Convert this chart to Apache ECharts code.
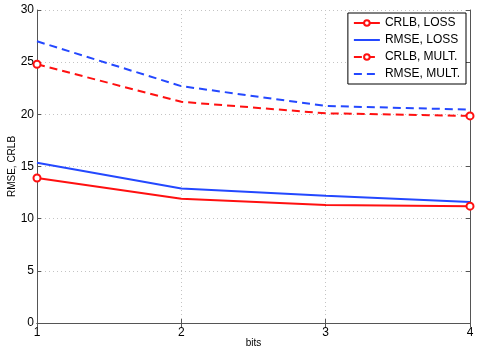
<!DOCTYPE html>
<html>
<head>
<meta charset="utf-8">
<script src="https://cdn.jsdelivr.net/npm/echarts@6/dist/echarts.min.js"></script>
<style>
  html, body { margin: 0; padding: 0; background: #fff; }
  #chart { width: 491px; height: 352px; }
</style>
</head>
<body>
<div id="chart"></div>
<script>
// bits on the x axis
var bits = [1, 2, 3, 4];
var crlbLoss = [13.9, 11.9, 11.3, 11.2];
var rmseLoss = [15.35, 12.9, 12.2, 11.6];
var crlbMult = [24.8, 21.2, 20.1, 19.85];
var rmseMult = [27.0, 22.7, 20.8, 20.45];
var seriesNames = ["CRLB, LOSS", "RMSE, LOSS", "CRLB, MULT.", "RMSE, MULT."];

var red = "#ff1010";
var blue = "#2448ff";
var font = "Liberation Sans, Arial, sans-serif";

// markers only on the end points
function pairs(values, marked) {
  return values.map(function(v, i) {
    var item = { value: [bits[i], v] };
    if (!marked || (i !== 0 && i !== values.length - 1)) {
      item.symbol = "none";
    }
    return item;
  });
}

function makeSeries(name, values, color, dashed, marked) {
  return {
    name: name,
    type: "line",
    data: pairs(values, marked),
    symbol: "emptyCircle",
    symbolSize: marked ? 7 : 0,
    showSymbol: true,
    clip: false,
    color: color,
    lineStyle: { color: color, width: 2, type: dashed ? [8, 5] : "solid" },
    itemStyle: { color: color, borderWidth: 1.6 },
    animation: false,
    z: 3
  };
}

// the RMSE lines have no marker in the legend either
var legendData = seriesNames.map(function(n, i) {
  return i % 2 === 1 ? { name: n, itemStyle: { opacity: 0 } } : { name: n };
});

var chart = echarts.init(document.getElementById("chart"));
var axisBase = {
  axisLine: { show: true, lineStyle: { color: "#555", width: 1 } },
  axisTick: { show: true, inside: true, length: 4, lineStyle: { color: "#555" } },
  splitLine: { show: true, lineStyle: { color: "#c4c4c4", type: [1, 3], width: 1 } }
};

chart.setOption({
  backgroundColor: "#fff",
  animation: false,
  grid: { left: 37, right: 21, top: 10, bottom: 29, containLabel: false, outerBoundsMode: "none" },
  legend: {
    orient: "vertical",
    right: 25,
    top: 13,
    data: legendData,
    itemWidth: 26,
    itemHeight: 7,
    itemGap: 5,
    padding: [4, 6, 4, 5],
    borderColor: "#000",
    borderWidth: 1,
    backgroundColor: "#fff",
    textStyle: { color: "#000", fontSize: 12, fontFamily: font }
  },
  xAxis: [
    Object.assign({}, axisBase, {
      type: "value",
      min: 1,
      max: 4,
      interval: 1,
      name: "bits",
      nameLocation: "middle",
      nameGap: 15,
      nameMoveOverlap: false,
      nameTextStyle: { color: "#000", fontSize: 10, fontFamily: font },
      axisLabel: { color: "#000", fontSize: 12, fontFamily: font, margin: 4 }
    }),
    {
      type: "value", position: "top", min: 1, max: 4, interval: 1,
      axisLine: { show: true, lineStyle: { color: "#555" } },
      axisTick: { show: true, inside: true, length: 4, lineStyle: { color: "#555" } },
      axisLabel: { show: false }, splitLine: { show: false }
    }
  ],
  yAxis: [
    Object.assign({}, axisBase, {
      type: "value",
      min: 0,
      max: 30,
      interval: 5,
      name: "RMSE, CRLB",
      nameLocation: "middle",
      nameGap: 20,
      nameMoveOverlap: false,
      nameRotate: 90,
      nameTextStyle: { color: "#000", fontSize: 10, fontFamily: font },
      axisLabel: { color: "#000", fontSize: 12, fontFamily: font, margin: 3 }
    }),
    {
      type: "value", position: "right", min: 0, max: 30, interval: 5,
      axisLine: { show: true, lineStyle: { color: "#555" } },
      axisTick: { show: true, inside: true, length: 4, lineStyle: { color: "#555" } },
      axisLabel: { show: false }, splitLine: { show: false }
    }
  ],
  series: [
    makeSeries(seriesNames[0], crlbLoss, red, false, true),
    makeSeries(seriesNames[1], rmseLoss, blue, false, false),
    makeSeries(seriesNames[2], crlbMult, red, true, true),
    makeSeries(seriesNames[3], rmseMult, blue, true, false)
  ]
});
</script>
</body>
</html>
